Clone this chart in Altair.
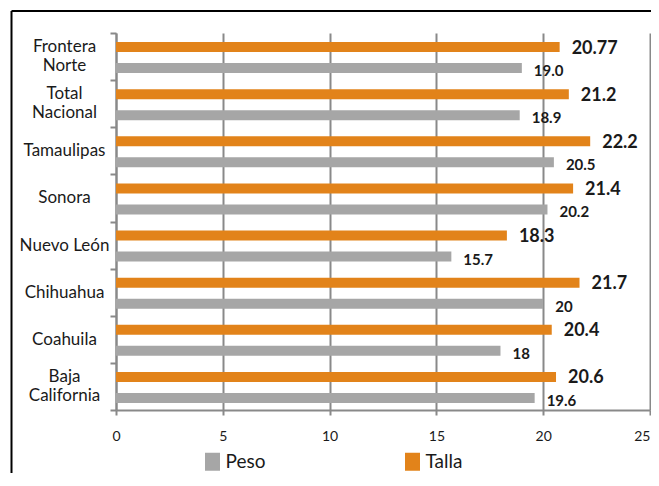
import altair as alt
import pandas as pd

# ---- data ----
categorias = ["Frontera\nNorte", "Total\nNacional", "Tamaulipas", "Sonora",
              "Nuevo León", "Chihuahua", "Coahuila", "Baja\nCalifornia"]
talla = [20.77, 21.2, 22.2, 21.4, 18.3, 21.7, 20.4, 20.6]
talla_txt = ["20.77", "21.2", "22.2", "21.4", "18.3", "21.7", "20.4", "20.6"]
peso = [19.0, 18.9, 20.5, 20.2, 15.7, 20, 18, 19.6]
peso_txt = ["19.0", "18.9", "20.5", "20.2", "15.7", "20", "18", "19.6"]
series = ["Talla", "Peso"]
legend_order = ["Peso", "Talla"]
x_ticks = [0, 5, 10, 15, 20, 25]

ORANGE = "#E2831A"
GRAY = "#A6A6A6"
AXIS_GRAY = "#898989"
TEXT = "#1a1a1a"
FONT = "Lato"

rows = []
for c, t, tt, p, pt in zip(categorias, talla, talla_txt, peso, peso_txt):
    rows.append({"cat": c, "serie": "Talla", "value": t, "label": tt})
    rows.append({"cat": c, "serie": "Peso", "value": p, "label": pt})
df = pd.DataFrame(rows)

x_enc = alt.X("value:Q",
              scale=alt.Scale(domain=[0, 25], nice=False, zero=True),
              axis=alt.Axis(values=x_ticks, title=None, grid=True,
                            gridColor=AXIS_GRAY, gridWidth=2,
                            domainColor=AXIS_GRAY, domainWidth=2,
                            tickColor=AXIS_GRAY, tickWidth=2, tickSize=5,
                            labelFont=FONT, labelFontSize=14, labelColor=TEXT,
                            labelPadding=14, format="d",
                            labelAlign={"condition": {"test": "datum.value == 25",
                                                      "value": "right"},
                                        "value": "center"}))
y_enc = alt.Y("cat:N", sort=categorias,
              scale=alt.Scale(domain=categorias, paddingInner=0, paddingOuter=0),
              axis=alt.Axis(title=None, labelExpr="split(datum.label, '\\n')",
                            labelAlign="center",
                            labelBaseline={"condition": {"test": "indexof('' + datum.value, '\\n') >= 0",
                                                         "value": "line-bottom"},
                                           "value": "middle"},
                            labelLineHeight=19, labelPadding=46,
                            labelFont=FONT, labelFontSize=17, labelColor=TEXT,
                            domainColor=AXIS_GRAY, domainWidth=2,
                            tickColor=AXIS_GRAY, tickWidth=2, tickSize=6,
                            tickBand="extent", grid=False))
yoff_enc = alt.YOffset("serie:N", sort=series,
                       scale=alt.Scale(domain=series, paddingInner=0.5238,
                                       paddingOuter=0.381, align=0.5625))

base = alt.Chart(df)

bars = base.mark_bar().encode(
    x=x_enc, y=y_enc, yOffset=yoff_enc,
    color=alt.Color("serie:N", title=None,
                    scale=alt.Scale(domain=legend_order, range=[GRAY, ORANGE]),
                    legend=alt.Legend(orient="none", legendX=87, legendY=419,
                                      direction="horizontal",
                                      symbolType="M-0.833,-1H0.833V1H-0.833Z",
                                      symbolSize=324, symbolStrokeWidth=0,
                                      labelFont=FONT, labelFontSize=19,
                                      labelColor=TEXT, labelOffset=3.5,
                                      columnPadding=137, padding=0)),
)

txt_talla = base.transform_filter(alt.datum.serie == "Talla").mark_text(
    align="left", baseline="middle", dx=12, dy=1.5, fontSize=18,
    fontWeight="bold", font=FONT, color=TEXT
).encode(x="value:Q", y=alt.Y("cat:N", sort=categorias),
         yOffset=alt.YOffset("serie:N", sort=series), text="label:N")

txt_peso = base.transform_filter(alt.datum.serie == "Peso").mark_text(
    align="left", baseline="middle", dx=12, dy=3, fontSize=15,
    fontWeight="bold", font=FONT, color=TEXT
).encode(x="value:Q", y=alt.Y("cat:N", sort=categorias),
         yOffset=alt.YOffset("serie:N", sort=series), text="label:N")

frame_data = alt.Data(values=[{"f": 0}])
frame_left = alt.Chart(frame_data).mark_rule(color="black", strokeWidth=2).encode(
    x=alt.value(-104.5), y=alt.value(-22), y2=alt.value(480))
frame_top = alt.Chart(frame_data).mark_rule(color="black", strokeWidth=2).encode(
    x=alt.value(-104.5), x2=alt.value(560), y=alt.value(-22))

chart = alt.layer(frame_left, frame_top, bars, txt_talla, txt_peso).properties(
    width=534, height=377,
    autosize=alt.AutoSizeParams(type="none"),
    padding={"left": 108, "top": 25, "right": 1, "bottom": 63},
    background="white",
).configure_view(strokeWidth=0)

chart.save("out.html", embed_options={"renderer": "svg", "actions": False})
